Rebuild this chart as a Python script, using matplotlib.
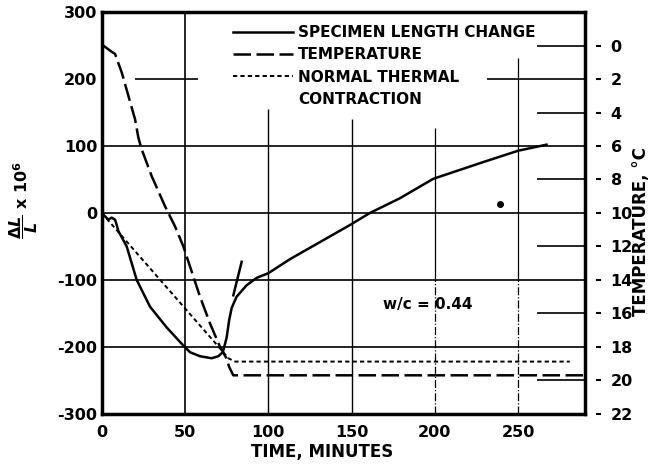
import numpy as np
import matplotlib
matplotlib.use("Agg")
import matplotlib.pyplot as plt
from matplotlib.lines import Line2D

plt.rcParams['font.family'] = ['DejaVu Sans']
plt.rcParams['font.weight'] = 'bold'
plt.rcParams['axes.unicode_minus'] = False

# specimen length change, dL/L x 10^6
len_t = [0, 4, 6, 8, 9, 10, 15, 21, 29, 39, 49, 53, 59, 66, 70, 72.7, 75, 76.5, 78,
         81, 87, 93, 100, 113, 149, 161, 179, 199, 229, 250, 267]
len_v = [0, -10, -7, -10, -18, -27, -50, -100, -140, -171, -198, -208, -214, -217, -214, -208,
         -186, -160, -142, -125, -108, -97, -90, -69, -18, 0, 22, 51, 76, 93, 102]
# short stray stroke of the length curve
stroke_t = [79, 84]
stroke_v = [-123, -73]

# temperature, deg C (plotted on right axis, increasing downward)
temp_t = [1, 5, 8, 12, 16, 20, 22, 24, 30, 38, 44, 49, 53, 59, 65, 71, 75, 76.5, 79, 290]
temp_v = [0.0, 0.3, 0.5, 1.6, 3.0, 4.4, 5.5, 6.2, 7.8, 9.6, 10.8, 12.0, 13.2, 15.0, 16.6,
          18.0, 18.7, 19.2, 19.7, 19.7]

# normal thermal contraction
ntc_t = [0, 73, 76, 80, 281]
ntc_v = [0, -208, -217, -222, -222]

dot_t, dot_v = 239, 14

x_ticks = [0, 50, 100, 150, 200, 250]
y_ticks = [300, 200, 100, 0, -100, -200, -300]
temp_ticks = list(range(0, 23, 2))

fig = plt.figure(figsize=(6.52, 4.66), dpi=100)
ax = fig.add_axes([0.156, 0.112, 0.741, 0.862])
ax2 = ax.twinx()

ax.set_xlim(0, 290)
ax.set_ylim(-300, 300)
ax2.set_ylim(22, -2)

# grid pieces like the original drawing
gk = dict(color='black', lw=1.2, zorder=1)
for yy in [100, 0, -100, -200]:
    ax.axhline(yy, **gk)
ax.hlines(200, 20, 58, **gk)
ax.hlines(200, 231, 290, **gk)
ax.axvline(50, **gk)
ax.vlines(100, -300, 155, color='black', lw=1.0, zorder=1)
ax.vlines(150, -300, 140, color='black', lw=1.0, zorder=1)
ax.vlines(200, -100, 127, color='black', lw=0.9, zorder=1)
ax.vlines(200, -300, -100, color='black', lw=0.9, ls='-.', zorder=1)
ax.vlines(250, -100, 231, color='black', lw=0.9, zorder=1)
ax.vlines(250, -300, -100, color='black', lw=0.9, ls='-.', zorder=1)
ax2.hlines([0, 4, 8, 12, 16, 20], 261, 290, color='black', lw=1.2, zorder=1)

# curves
ax.plot(len_t, len_v, color='black', lw=1.8, zorder=3)
ax.plot(stroke_t, stroke_v, color='black', lw=1.8, zorder=3)
ax.plot(ntc_t, ntc_v, color='black', lw=1.4, dashes=(2.2, 1.6), zorder=3)
ax2.plot(temp_t, temp_v, color='black', lw=1.8, dashes=(7, 2.2), zorder=3)
ax.plot([dot_t], [dot_v], 'o', color='black', ms=4, zorder=3)

ax.text(169, -137, 'w/c = 0.44', fontsize=11, fontweight='bold', va='center', ha='left')

# axes styling
for s in ax.spines.values():
    s.set_linewidth(2.5)
for s in ax2.spines.values():
    s.set_visible(False)
ax2.spines['right'].set_position(('outward', 8))

ax.set_xticks(x_ticks)
ax.set_yticks(y_ticks)
ax.tick_params(axis='both', length=0, labelsize=11.5)
ax.tick_params(axis='x', pad=8)
ax.tick_params(axis='y', pad=3)
ax.tick_params(axis='y', right=False)

ax2.set_yticks(temp_ticks)
ax2.tick_params(axis='y', length=3.5, width=1.5, pad=7, labelsize=11.5)

ax.set_xlabel('TIME, MINUTES', fontsize=12, fontweight='bold')
ax.xaxis.set_label_coords(0.456, -0.072)
ax.set_ylabel(r'$\dfrac{\Delta L}{L}$ x 10$^6$', fontsize=11.5, fontweight='bold')
ax.yaxis.set_label_coords(-0.128, 0.532)
ax2.set_ylabel('TEMPERATURE, °C', fontsize=12, fontweight='bold')
ax2.yaxis.set_label_coords(1.098, 0.453)

handles = [
    Line2D([], [], color='black', lw=1.8),
    Line2D([], [], color='black', lw=1.8, dashes=(7, 2.2)),
    Line2D([], [], color='black', lw=1.4, dashes=(2.2, 1.6)),
    Line2D([], [], color='none'),
]
labels = ['SPECIMEN LENGTH CHANGE', 'TEMPERATURE', 'NORMAL THERMAL', 'CONTRACTION']
ax2.legend(handles, labels, loc='upper left', bbox_to_anchor=(0.272, 0.968), frameon=False,
           borderpad=0, borderaxespad=0, handlelength=3.9, handletextpad=0.35,
           labelspacing=0.48, prop={'size': 11, 'weight': 'bold'})

fig.savefig('out.png', dpi=100)
